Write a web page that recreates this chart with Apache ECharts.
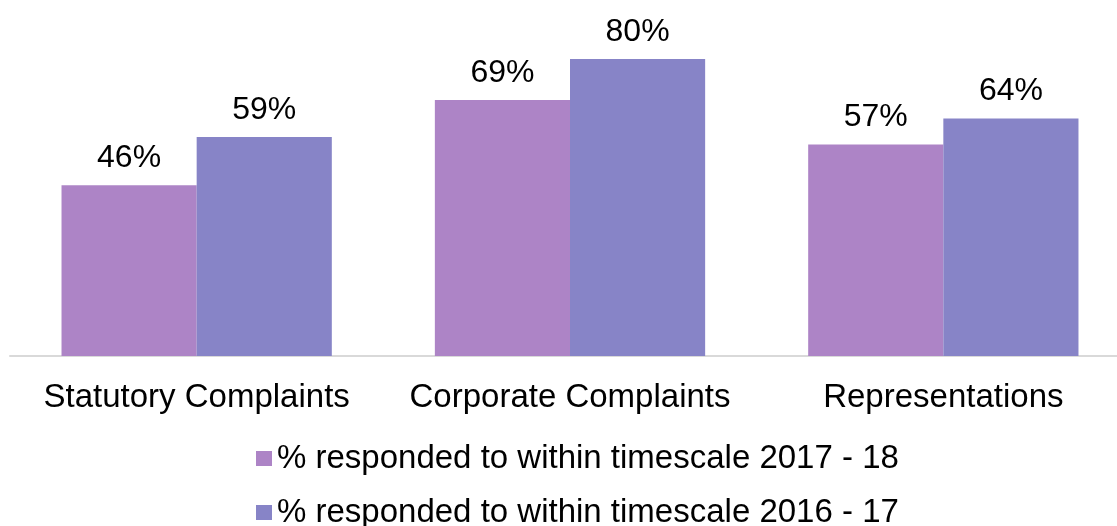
<!DOCTYPE html>
<html>
<head>
<meta charset="utf-8">
<script src="https://cdn.jsdelivr.net/npm/echarts@6/dist/echarts.min.js"></script>
<style>
  html, body { margin: 0; padding: 0; background: #fff; }
  #chart { width: 1117px; height: 526px; }
</style>
</head>
<body>
<div id="chart"></div>
<script>
// 数据
const categories = ['Statutory Complaints', 'Corporate Complaints', 'Representations']
const seriesNames = ['% responded to within timescale 2017 - 18', '% responded to within timescale 2016 - 17']
const values2017 = [46, 69, 57]
const values2016 = [59, 80, 64]

const myChart = echarts.init(document.getElementById('chart'))
const font = 'Liberation Sans, Arial, sans-serif'
// 图例：每行一个
const legendItem = (name, top) => ({
  left: 251,
  top: top,
  itemWidth: 16,
  itemHeight: 15,
  itemGap: 0,
  icon: 'rect',
  textStyle: { fontSize: 33, color: '#000', fontFamily: font },
  data: [name]
})
const labelStyle = {
  show: true,
  position: 'top',
  distance: 11,
  formatter: '{c}%',
  fontSize: 32,
  color: '#000',
  fontFamily: font
}
const option = {
  animation: false,
  textStyle: { fontFamily: font },
  legend: [legendItem(seriesNames[0], 437), legendItem(seriesNames[1], 491)],
  grid: {
    left: 10,
    width: 1120,
    top: 22,
    height: 334,
    outerBoundsMode: 'none'
  },
  xAxis: {
    type: 'category',
    data: categories,
    axisTick: { show: false },
    axisLine: { lineStyle: { color: '#d9d9d9', width: 2 } },
    axisLabel: { interval: 0, fontSize: 33, color: '#000', margin: 25, fontFamily: font }
  },
  yAxis: {
    type: 'value',
    min: 0,
    max: 90,
    show: false,
    splitLine: { show: false }
  },
  series: [
    {
      name: seriesNames[0],
      type: 'bar',
      data: values2017,
      barGap: '0%',
      barCategoryGap: '27.6%',
      itemStyle: { color: '#ad84c6' },
      label: labelStyle
    },
    {
      name: seriesNames[1],
      type: 'bar',
      data: values2016,
      itemStyle: { color: '#8784c7' },
      label: labelStyle
    }
  ]
}
myChart.setOption(option)
</script>
</body>
</html>
